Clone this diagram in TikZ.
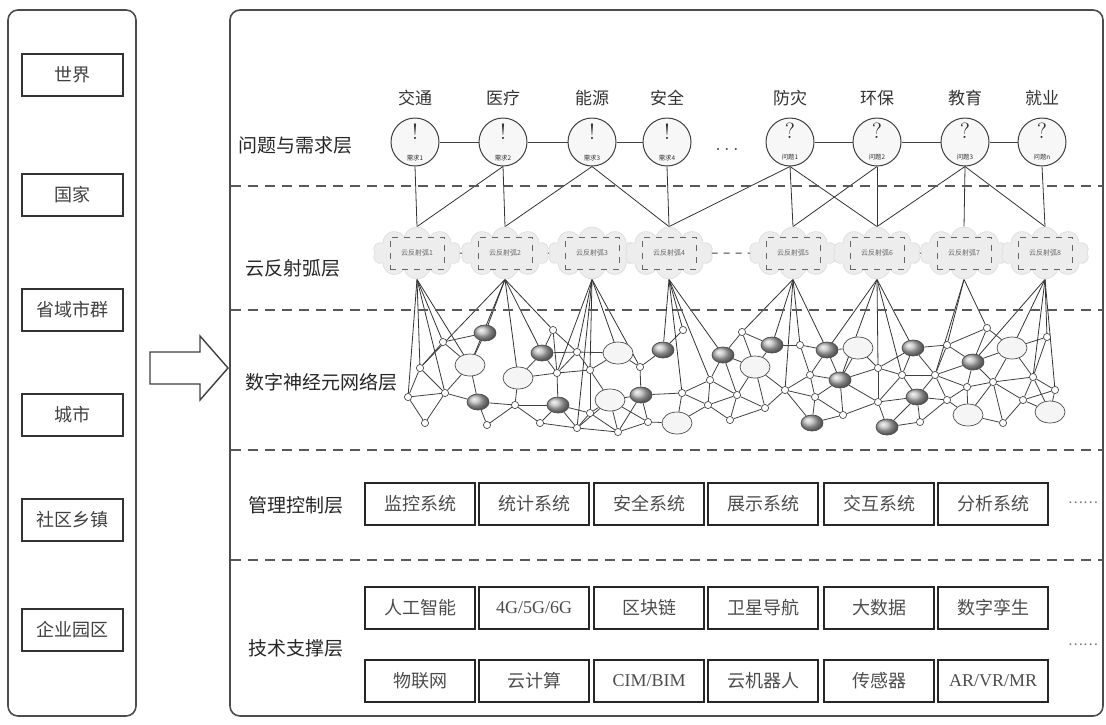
\documentclass[tikz,border=0pt]{standalone}
\usepackage{fontspec}
\newfontfamily\cjk{Noto Sans CJK SC}
\newfontfamily\latinserif{Liberation Serif}
\usetikzlibrary{shapes.symbols,shapes.geometric,backgrounds}
\newcommand\needtext[2]{{\fontsize{11}{11}\selectfont #1}\\[-1.5pt]{\cjk\fontsize{3.2}{4}\selectfont #2}}
\tikzset{
  panel/.style={draw=black!70, line width=0.8pt, rounded corners=5pt},
  leftbox/.style={draw=black!80, line width=0.7pt, minimum width=50.5pt, minimum height=21pt, inner sep=0pt, font=\cjk\fontsize{9}{10}\selectfont, text=black!75},
  sysbox/.style={draw=black!85, line width=0.7pt, minimum width=55pt, minimum height=21pt, inner sep=0pt, font=\cjk\fontsize{9}{10}\selectfont, text=black!70},
  layerlabel/.style={anchor=west, inner sep=0pt, font=\cjk\fontsize{9.5}{11}\selectfont, text=black!85},
  toplabel/.style={inner sep=0pt, font=\cjk\fontsize{8.5}{10}\selectfont, text=black!80},
  sep/.style={dash pattern=on 5pt off 3.5pt, draw=black!65, line width=0.6pt},
  need/.style={circle, draw=black!75, line width=0.5pt, minimum size=24pt, inner sep=0pt, fill=gray!6, align=center, text=black!80},
  link/.style={draw=black!75, line width=0.5pt},
  cloudnode/.style={cloud, cloud puffs=10, aspect=1.8, minimum width=44pt, minimum height=26pt, inner sep=0pt, fill=gray!14, draw=gray!25},
  arcbox/.style={draw=black!60, dashed, line width=0.35pt, minimum width=27pt, minimum height=16pt, inner sep=0pt, font=\cjk\fontsize{3.5}{4}\selectfont, text=black!60},
  darkball/.style={ellipse, minimum width=11pt, minimum height=8pt, inner sep=0pt, shading=ball, ball color=gray!55, draw=black!70, line width=0.35pt},
  lightball/.style={ellipse, minimum width=15pt, minimum height=11pt, inner sep=0pt, fill=gray!8, draw=black!70, line width=0.35pt},
  smallnode/.style={circle, minimum size=3.6pt, inner sep=0pt, fill=white, draw=black!70, line width=0.35pt},
  net/.style={draw=black!75, line width=0.4pt},
  fan/.style={draw=black!80, line width=0.4pt},
  moredots/.style={inner sep=0pt, font=\cjk\fontsize{7}{8}\selectfont, text=black!55}
}
\def\netlist{485/333/darkball/1, 443/342/smallnode/2, 470/365/lightball/3, 420/368/smallnode/4, 408/397/smallnode/5, 445/393/smallnode/6, 478/402/darkball/7, 425/423/smallnode/8, 487/425/smallnode/9, 515/405/smallnode/10, 518/378/lightball/11, 542/353/darkball/12, 553/330/smallnode/13, 557/373/smallnode/14, 590/370/smallnode/15, 558/405/darkball/16, 540/423/smallnode/17, 577/428/smallnode/18, 577/352/smallnode/19, 618/353/lightball/20, 610/400/lightball/22, 590/413/smallnode/23, 618/432/smallnode/24, 641/395/darkball/25, 640/367/smallnode/26, 663/350/darkball/27, 683/330/smallnode/28, 648/422/smallnode/29, 677/423/lightball/30, 682/393/smallnode/31, 723/355/darkball/32, 742/332/smallnode/33, 710/380/smallnode/34, 737/395/smallnode/35, 755/367/lightball/36, 708/405/smallnode/37, 730/420/smallnode/38, 772/345/darkball/39, 800/345/smallnode/40, 827/350/darkball/41, 858/348/lightball/42, 913/348/darkball/43, 947/345/smallnode/44, 987/328/smallnode/45, 973/362/darkball/46, 1012/348/lightball/47, 1047/337/smallnode/48, 785/390/smallnode/50, 810/375/smallnode/51, 815/397/smallnode/52, 840/380/darkball/53, 878/368/smallnode/54, 878/402/smallnode/55, 902/375/smallnode/56, 917/397/darkball/57, 935/375/smallnode/58, 947/400/smallnode/59, 967/387/smallnode/60, 993/382/smallnode/61, 1023/400/smallnode/62, 1033/377/smallnode/63, 1055/390/smallnode/64, 765/408/smallnode/65, 812/423/darkball/66, 843/415/smallnode/67, 887/427/darkball/68, 920/422/smallnode/69, 968/415/lightball/70, 1003/423/smallnode/71, 1050/412/lightball/72}
\begin{document}
\begin{tikzpicture}[x=0.5pt,y=-0.5pt]
\useasboundingbox (0,0) rectangle (1106,724);
% panels
\draw[panel] (8,10) rectangle (136,716);
\draw[panel] (230,10) rectangle (1103,716);
% left hierarchy boxes
\foreach \txt/\yy [count=\k] in {世界/75, 国家/195, 省域市群/310, 城市/415, 社区乡镇/520, 企业园区/630}
  \node[leftbox] (L\k) at (72.5,\yy) {\txt};
% hollow arrow
\draw[draw=black!75, line width=0.7pt, fill=white] (150,352) -- (200,352) -- (200,336) -- (228,368) -- (200,400) -- (200,384) -- (150,384) -- cycle;
% separators
\foreach \yy in {186,310,450,560}
  \draw[sep] (231,\yy) -- (1103,\yy);
% layer labels
\node[layerlabel] (lay1) at (238,145) {问题与需求层};
\node[layerlabel] (lay2) at (245,268) {云反射弧层};
\node[layerlabel] (lay3) at (245,382) {数字神经元网络层};
\node[layerlabel] (lay4) at (248,505) {管理控制层};
\node[layerlabel] (lay5) at (248,648) {技术支撑层};
% problem / demand circles
\foreach \x/\lab/\mk/\sm [count=\k] in {415/交通/!/需求1, 503/医疗/!/需求2, 592/能源/!/需求3, 667/安全/!/需求4, 790/防灾/?/问题1, 877/环保/?/问题2, 965/教育/?/问题3, 1042/就业/?/问题n} {
  \node[need] (c\k) at (\x,142) {\needtext{\mk}{\sm}};
  \node[toplabel] (top\k) at (\x,98) {\lab};
}
\draw[link] (c1) -- (c2);
\draw[link] (c2) -- (c3);
\draw[link] (c3) -- (c4);
\draw[link] (c5) -- (c6);
\draw[link] (c6) -- (c7);
\draw[link] (c7) -- (c8);
\node[inner sep=0pt, text=black!70] (dots) at (727,150) {$\cdots$};
% clouds
\foreach \x [count=\k] in {417,505,592,669,793,877,964,1045} {
  \node[cloudnode] (cl\k) at (\x,253) {};
  \node[arcbox] (ab\k) at (\x,253) {云反射弧\k};
}
% network nodes
\foreach \x/\y/\typ/\nm in \netlist
  \node[\typ] (n\nm) at (\x,\y) {};
% management boxes
\foreach \txt/\x [count=\k] in {监控系统/420, 统计系统/534, 安全系统/649, 展示系统/763, 交互系统/879, 分析系统/993}
  \node[sysbox] (m\k) at (\x,504) {\txt};
\foreach \txt/\x [count=\k] in {人工智能/420, {\latinserif 4G/5G/6G}/534, 区块链/649, 卫星导航/763, 大数据/879, 数字孪生/993}
  \node[sysbox] (ta\k) at (\x,608) {\txt};
\foreach \txt/\x [count=\k] in {物联网/420, 云计算/534, {\latinserif CIM/BIM}/649, 云机器人/763, 传感器/879, {\latinserif AR/VR/MR}/993}
  \node[sysbox] (tb\k) at (\x,681) {\txt};
\node[moredots] (md1) at (1083,503) {……};
\node[moredots] (md2) at (1083,645) {……};
% connectors in background
\begin{pgfonlayer}{background}
  \draw[link] (cl1) -- (cl2);
  \draw[link] (cl2) -- (cl3);
  \draw[link] (cl3) -- (cl4);
  \draw[link, dashed] (cl4) -- (cl5);
  \draw[link] (cl5) -- (cl6);
  \draw[link] (cl6) -- (cl7);
  \draw[link] (cl7) -- (cl8);
  \foreach \a/\b in {1/1, 2/1, 2/2, 3/2, 3/4, 4/4, 5/4, 5/5, 6/5, 5/6, 6/6, 7/6, 7/7, 7/8, 8/8}
    \draw[fan] (c\a.south) -- (cl\b.north);
  \foreach \k/\targets in {1/{5,4,2,3,6}, 2/{4,1,11,12,13,3}, 3/{18,15,19,20,26,14}, 4/{27,28,31,34,32}, 5/{33,39,50,40,41}, 6/{41,53,54,56,43}, 7/{44,45,58}, 8/{46,47,48,63,64}}
    \foreach \m in \targets
      \draw[fan] (cl\k.south) -- (n\m);
  \foreach \xa/\ya/\ta/\na [count=\i] in \netlist {
    \foreach \xb/\yb/\tb/\nb [count=\j] in \netlist {
      \ifnum\j>\i\relax
        \pgfmathtruncatemacro\ok{veclen(\xa-\xb,\ya-\yb)<44}
        \ifnum\ok=1 \draw[net] (n\na) -- (n\nb);\fi
      \fi
    }
  }
\end{pgfonlayer}
\end{tikzpicture}
\end{document}
